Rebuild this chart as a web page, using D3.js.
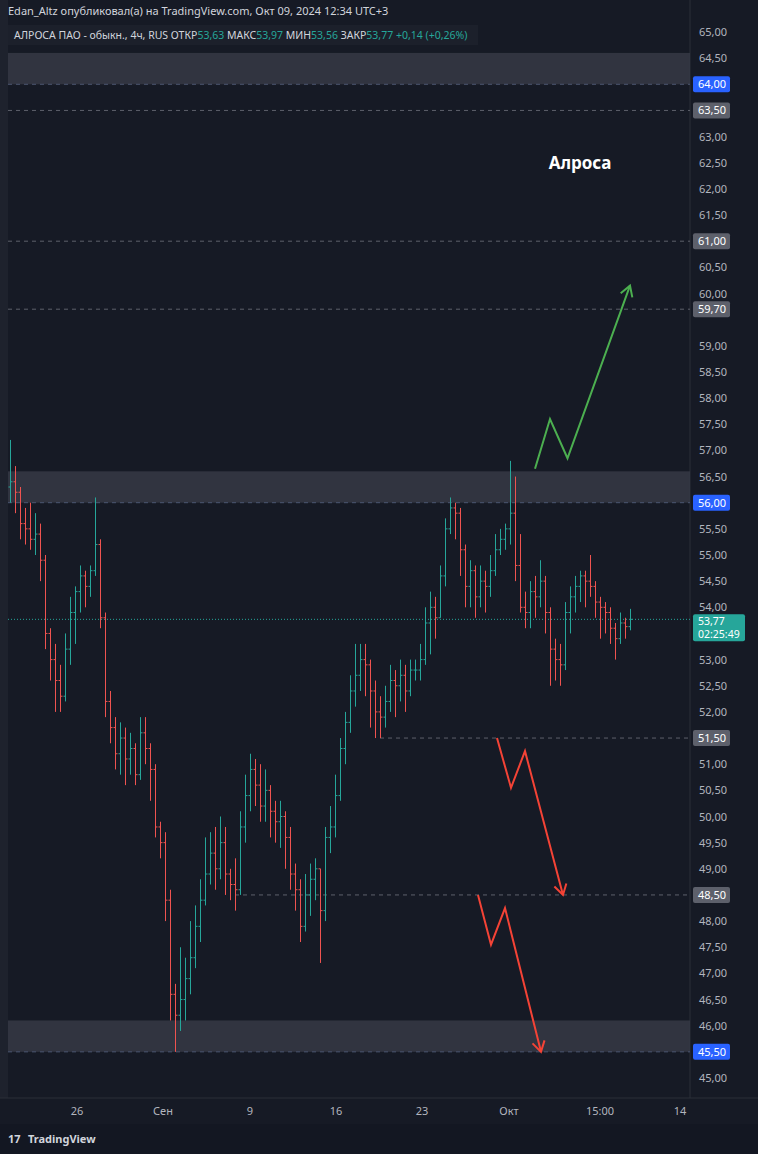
<!DOCTYPE html>
<html><head><meta charset="utf-8">
<script src="https://cdn.jsdelivr.net/npm/d3@7"></script>
<style>body{margin:0;background:#161a25;font-family:"Noto Sans",sans-serif}</style>
</head><body><svg id="c" width="758" height="1154"></svg>
<script>
// closes, highs, lows (open = previous close)
const closes = [56.4,56.2,55.6,55.5,55.3,55.4,54.9,53.5,53.0,52.6,52.3,53.2,53.9,54.3,54.6,54.4,54.7,55.2,53.8,52.2,
51.7,51.2,51.5,51.1,51.3,50.8,51.6,51.3,50.9,49.8,49.5,48.4,46.6,46.2,46.5,46.9,47.3,47.9,48.4,48.9,
49.3,49.0,49.5,48.9,48.7,48.6,49.8,50.4,50.9,50.6,50.2,50.5,50.1,49.9,50.0,49.6,48.9,48.6,47.9,48.5,
48.8,49.0,48.2,49.6,49.8,50.4,51.3,51.8,52.4,52.7,53.0,52.9,52.4,52.0,51.9,52.2,52.6,52.5,52.7,52.4,
52.8,52.8,53.0,53.7,54.0,53.8,54.6,55.5,55.9,55.8,55.1,54.4,54.7,54.2,54.5,54.4,54.7,55.1,55.3,55.5,
55.8,54.8,54.0,53.9,54.3,54.2,54.5,53.9,53.2,53.0,52.9,53.9,54.2,54.4,54.6,54.5,54.4,54.1,54.0,53.9,
53.6,53.4,53.7,53.63,53.77];
const highs = [57.2,56.7,56.3,55.9,56.0,55.8,55.6,55.0,53.6,53.3,52.9,53.5,54.2,54.4,54.8,54.7,54.8,56.1,55.3,53.9,
52.4,51.9,51.8,51.7,51.6,51.4,51.9,51.9,51.4,51.0,49.9,49.7,48.6,46.8,47.5,47.3,48.0,48.3,48.8,49.6,
49.7,49.8,50.0,49.8,49.0,49.2,50.1,50.8,51.2,51.1,51.0,50.9,50.6,50.3,50.3,50.1,49.8,49.1,48.8,48.9,
49.1,49.2,49.0,49.8,50.2,50.8,51.5,52.0,52.7,53.3,53.3,53.3,53.0,52.6,52.3,52.5,52.9,52.8,53.0,52.9,
53.0,53.0,53.3,54.0,54.3,54.2,54.8,55.7,56.1,56.0,55.9,55.2,54.9,54.8,54.8,54.7,55.0,55.4,55.5,55.6,
56.8,56.5,55.4,54.3,54.5,54.6,54.9,54.6,54.0,53.4,53.3,54.1,54.4,54.6,54.7,54.7,55.0,54.5,54.2,54.1,
54.0,53.7,53.9,53.8,53.97];
const lows = [56.0,55.8,55.3,55.2,55.1,55.0,54.5,53.2,52.6,52.0,52.0,52.2,52.9,53.3,53.9,54.0,54.2,54.6,53.6,51.9,
51.4,50.9,50.8,50.6,50.8,50.6,50.7,51.0,50.3,49.6,49.2,48.0,46.1,45.5,45.9,46.1,46.6,47.1,47.6,48.3,
48.7,48.6,48.8,48.5,48.4,48.2,48.5,49.5,50.1,50.2,49.9,49.9,49.6,49.5,49.4,49.0,48.6,48.2,47.6,47.8,
48.1,48.4,47.2,48.0,49.3,49.6,50.3,51.0,51.6,52.1,52.4,52.3,51.7,51.5,51.5,51.7,52.0,51.9,52.2,52.0,
52.3,52.6,52.6,52.9,53.1,53.4,53.8,54.4,55.4,55.3,54.6,54.0,54.0,53.8,54.0,53.9,54.2,54.6,55.0,55.1,
55.2,54.5,53.9,53.6,53.6,53.8,54.0,53.5,52.5,52.6,52.5,52.8,53.5,53.9,54.1,54.0,54.2,53.8,53.4,53.5,
53.3,53.0,53.3,53.4,53.56];
const firstOpen = 56.3;
const tickLabels = ["26","Сен","9","16","23","Окт","15:00","14"];
const tickIdx = [13.4,30.6,48,65.2,82.4,99.8,118,134];
const priceTicks = d3.range(45,65.01,0.5);
const dashedLevels = [64.0,63.5,61.0,59.7,56.0,51.5,48.5,45.5];
const dashedFrom = [0,0,0,0,0,74,45,0];
const blueLevels = [64.0,56.0,45.5];
const zones = [[64.0,64.6],[56.0,56.6],[45.5,46.1]];
const lastPrice = 53.77;
const greenArrow = [[105,56.65],[108,57.6],[111.5,56.85],[124,60.15]];
const redArrow1 = [[97.4,51.5],[100.2,50.55],[103,51.25],[110.6,48.5]];
const redArrow2 = [[93.6,48.5],[96.2,47.55],[99,48.25],[106.2,45.5]];

const fmt = v => v.toFixed(2).replace(".", ",");
const svg = d3.select("#c");
const x = d3.scaleLinear().domain([0,124]).range([10,630]);
const y = d3.scaleLinear().domain([45,65]).range([1078,32]);
const plotR = 690;

svg.append("rect").attr("width",758).attr("height",1154).attr("fill","#161a25");
svg.append("rect").attr("x",0).attr("y",0).attr("width",8).attr("height",1098).attr("fill","#1e222d");
svg.append("line").attr("x1",plotR).attr("x2",plotR).attr("y1",0).attr("y2",1098).attr("stroke","#2a2e39");
svg.append("line").attr("x1",0).attr("x2",758).attr("y1",1098).attr("y2",1098).attr("stroke","#2a2e39");
svg.append("rect").attr("x",0).attr("y",1124).attr("width",758).attr("height",30).attr("fill","#131722");

// zones
svg.selectAll(".zone").data(zones).enter().append("rect")
  .attr("x",8).attr("width",plotR-8)
  .attr("y",d => y(d[1])).attr("height",d => y(d[0]) - y(d[1]))
  .attr("fill","#363a45").attr("opacity",0.85);

// dashed levels
svg.selectAll(".lvl").data(dashedLevels).enter().append("line")
  .attr("x1",(d,i) => dashedFrom[i] ? x(dashedFrom[i]) : 8).attr("x2",plotR)
  .attr("y1",d => y(d)).attr("y2",d => y(d))
  .attr("stroke",d => blueLevels.includes(d) ? "#4a5570" : "#5d606b")
  .attr("stroke-dasharray","4,4").attr("stroke-width",1);

// last price dotted
svg.append("line").attr("x1",8).attr("x2",plotR).attr("y1",y(lastPrice)).attr("y2",y(lastPrice))
  .attr("stroke","#26a69a").attr("stroke-dasharray","1,2");

// OHLC bars
const bars = closes.map((c,i) => ({o: i ? closes[i-1] : firstOpen, c: c, h: highs[i], l: lows[i], i: i}));
const bg = svg.append("g");
bars.forEach(d => {
  const col = d.c >= d.o ? "#26a69a" : "#ef5350";
  const cx = Math.round(x(d.i)) + 0.5;
  bg.append("line").attr("x1",cx).attr("x2",cx).attr("y1",y(d.h)).attr("y2",y(d.l)).attr("stroke",col);
  bg.append("line").attr("x1",cx-2).attr("x2",cx).attr("y1",y(d.o)).attr("y2",y(d.o)).attr("stroke",col);
  bg.append("line").attr("x1",cx).attr("x2",cx+2).attr("y1",y(d.c)).attr("y2",y(d.c)).attr("stroke",col);
});

// arrows
const line = d3.line().x(d => x(d[0])).y(d => y(d[1]));
function arrow(pts, col) {
  svg.append("path").attr("d",line(pts)).attr("fill","none").attr("stroke",col).attr("stroke-width",2);
  const a = pts[pts.length-1], b = pts[pts.length-2];
  const ang = Math.atan2(y(a[1]) - y(b[1]), x(a[0]) - x(b[0]));
  const hx = x(a[0]), hy = y(a[1]);
  const p = [ang + 2.6, ang - 2.6].map(t => [hx + 12*Math.cos(t), hy + 12*Math.sin(t)]);
  svg.append("path").attr("d",`M${p[0]}L${hx},${hy}L${p[1]}`).attr("fill","none").attr("stroke",col).attr("stroke-width",2);
}
arrow(greenArrow,"#4caf50");
arrow(redArrow1,"#f44336");
arrow(redArrow2,"#f44336");

svg.append("text").attr("x",580).attr("y",169).attr("text-anchor","middle").attr("fill","#fff")
  .attr("font-size",17).attr("font-weight","bold").text("Алроса");

// price axis: skip ticks hidden behind badges
const hidden = p => dashedLevels.some(b => Math.abs(y(b) - y(p)) < 14) ||
  (y(p) > y(lastPrice) - 10 && y(p) < y(lastPrice) + 28);
svg.selectAll(".pt").data(priceTicks.filter(p => !hidden(p))).enter().append("text")
  .attr("x",699).attr("y",d => y(d)+4).attr("fill","#b2b5be").attr("font-size",11).text(fmt);
svg.selectAll(".badge").data(dashedLevels).enter().append("rect")
  .attr("x",693).attr("y",d => y(d)-8).attr("width",37).attr("height",16).attr("rx",2)
  .attr("fill",d => blueLevels.includes(d) ? "#2962ff" : "#5d606b");
svg.selectAll(".bt").data(dashedLevels).enter().append("text")
  .attr("x",698).attr("y",d => y(d)+4).attr("fill","#fff").attr("font-size",11).text(fmt);
svg.append("rect").attr("x",693).attr("y",y(lastPrice)-5).attr("width",52).attr("height",27).attr("rx",2).attr("fill","#26a69a");
svg.append("text").attr("x",698).attr("y",y(lastPrice)+6).attr("fill","#fff").attr("font-size",10.5).text(fmt(lastPrice));
svg.append("text").attr("x",698).attr("y",y(lastPrice)+19).attr("fill","#fff").attr("font-size",10.5).text("02:25:49");

// time axis
svg.selectAll(".tt").data(tickIdx).enter().append("text")
  .attr("x",d => x(d)).attr("y",1115).attr("text-anchor","middle").attr("fill","#b2b5be").attr("font-size",11)
  .text((d,i) => tickLabels[i]);

// header
svg.append("text").attr("x",8).attr("y",15).attr("fill","#d1d4dc").attr("font-size",11)
  .text("Edan_Altz опубликовал(а) на TradingView.com, Окт 09, 2024 12:34 UTC+3");
svg.append("rect").attr("x",8).attr("y",25).attr("width",470).attr("height",20).attr("fill","#1c202b");
const hdr = svg.append("text").attr("x",14).attr("y",39).attr("font-size",10.5).attr("fill","#d1d4dc");
hdr.append("tspan").text("АЛРОСА ПАО - обыкн., 4ч, RUS  ОТКР");
hdr.append("tspan").attr("fill","#26a69a").text("53,63");
hdr.append("tspan").text("  МАКС");
hdr.append("tspan").attr("fill","#26a69a").text("53,97");
hdr.append("tspan").text("  МИН");
hdr.append("tspan").attr("fill","#26a69a").text("53,56");
hdr.append("tspan").text("  ЗАКР");
hdr.append("tspan").attr("fill","#26a69a").text("53,77 +0,14 (+0,26%)");

// footer logo
svg.append("text").attr("x",8).attr("y",1143).attr("fill","#d1d4dc").attr("font-size",11).attr("font-weight","bold").text("17");
svg.append("text").attr("x",28).attr("y",1143).attr("fill","#d1d4dc").attr("font-size",11).attr("font-weight","bold").text("TradingView");
</script></body></html>
